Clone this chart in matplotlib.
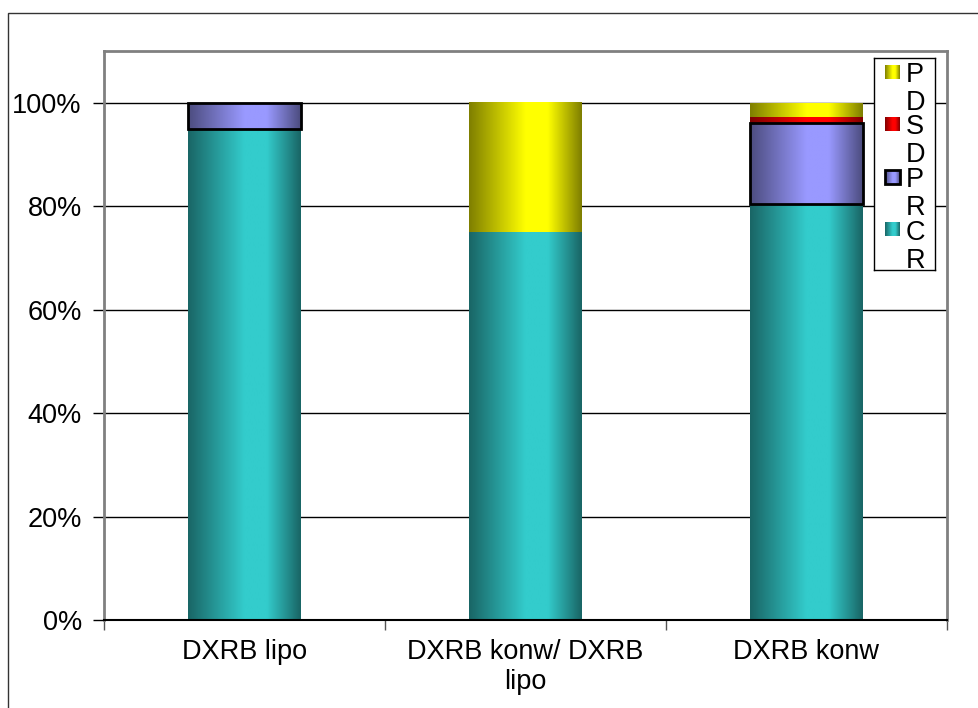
import numpy as np
import matplotlib
matplotlib.use("Agg")
import matplotlib.pyplot as plt
from matplotlib.patches import Rectangle
from matplotlib.colors import to_rgb
from matplotlib.ticker import FuncFormatter

# ---- data -------------------------------------------------------------
categories = ["DXRB lipo", "DXRB konw/ DXRB\nlipo", "DXRB konw"]
series_names = ["CR", "PR", "SD", "PD"]
cr = [95.0, 75.0, 80.4]
pr = [5.0, 0.0, 15.7]
sd = [0.0, 0.0, 1.2]
pd_ = [0.0, 25.0, 2.7]
series_values = [cr, pr, sd, pd_]
y_ticks = [0, 20, 40, 60, 80, 100]

# ---- styling ----------------------------------------------------------
series_colors = ["#33CCCC", "#9999FF", "#FF0000", "#FFFF00"]
series_edges = [None, "black", None, None]

plt.rcParams['font.family'] = ['Liberation Sans', 'DejaVu Sans']
FS = 19.5

W, H = 979, 708
fig = plt.figure(figsize=(W / 100, H / 100), dpi=100)
ax = fig.add_axes([104 / W, 1 - 620 / H, (947 - 104) / W, (620 - 51) / H])


def gradient_img(color, n=96):
    """Horizontal shading: darker edges, bright band slightly right of centre."""
    c = np.array(to_rgb(color))
    t = np.linspace(0, 1, n)
    f = np.interp(t, [0, 0.5, 0.7, 1], [0, 1, 1, 0])
    shade = 0.5 + 0.5 * f
    return shade[None, :, None] * c[None, None, :]


x = np.arange(len(categories))
bottom = np.zeros(len(categories))
for name, vals, col, ec in zip(series_names, series_values, series_colors, series_edges):
    vals = np.asarray(vals, dtype=float)
    bars = ax.bar(x, vals, width=0.40, bottom=bottom, facecolor='none',
                  edgecolor='none', linewidth=0, zorder=3, label=name)
    img = gradient_img(col)
    for b in bars:
        if b.get_height() <= 0:
            continue
        x0, w, y0, h = b.get_x(), b.get_width(), b.get_y(), b.get_height()
        ax.imshow(img, extent=(x0, x0 + w, y0, y0 + h), aspect='auto',
                  interpolation='bilinear', zorder=2)
        if ec:
            b.set_edgecolor(ec)
            b.set_linewidth(2)
    bottom += vals

ax.set_xlim(-0.5, len(categories) - 0.5)
ax.set_ylim(0, 110)

# y axis
ax.set_yticks(y_ticks)
ax.yaxis.set_major_formatter(FuncFormatter(lambda v, p: f"{v:.0f}%"))
ax.tick_params(axis='y', length=8, width=1, color='black', labelsize=FS, pad=8)
ax.yaxis.grid(True, color='black', linewidth=1)
ax.set_axisbelow(True)

# x axis: boundary ticks, labels centred under bars
ax.set_xticks(np.arange(len(categories) + 1) - 0.5)
ax.set_xticklabels([])
ax.set_xticks(x, categories, minor=True)
ax.tick_params(axis='x', which='major', length=7, width=1, color='#555555')
ax.tick_params(axis='x', which='minor', length=0, labelsize=FS, pad=14)
for lbl in ax.get_xticklabels(minor=True):
    lbl.set_linespacing(1.2)

for side in ('left', 'top', 'right'):
    ax.spines[side].set_color('#808080')
    ax.spines[side].set_linewidth(2)
ax.spines['bottom'].set_color('black')
ax.spines['bottom'].set_linewidth(1.5)

# outer chart frame
fig.patches.append(Rectangle((8 / W, -0.2), 2, 1 - 13 / H + 0.2,
                             transform=fig.transFigure, fill=False,
                             edgecolor='#333333', linewidth=1))

# ---- legend (narrow box, names wrap one letter per line) -------------
lw_, lh_ = 61, 212
lax = fig.add_axes([874 / W, 1 - 270 / H, lw_ / W, lh_ / H])
lax.set_xticks([])
lax.set_yticks([])
for s in lax.spines.values():
    s.set_color('black')
    s.set_linewidth(1)

entries = list(zip(series_names, series_colors, series_edges))[::-1]
for i, (name, col, ec) in enumerate(entries):
    yc = 14 + 52.5 * i
    lax.imshow(gradient_img(col), extent=(11, 26, yc + 7, yc - 7),
               aspect='auto', interpolation='bilinear', zorder=2)
    if ec:
        lax.add_patch(Rectangle((11, yc - 7), 15, 14, fill=False,
                                edgecolor=ec, linewidth=2, zorder=3))
    lax.text(32, yc - 10, "\n".join(name), fontsize=FS, ha='left', va='top',
             linespacing=1.1)
lax.set_xlim(0, lw_)
lax.set_ylim(lh_, 0)

fig.savefig("out.png", dpi=100)
